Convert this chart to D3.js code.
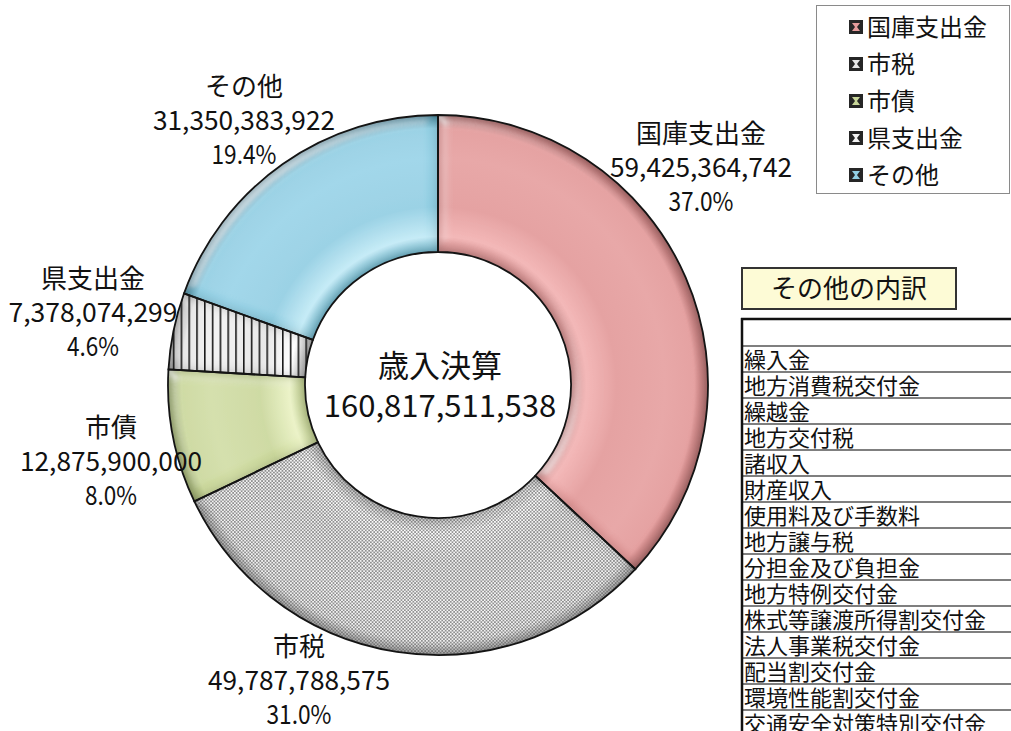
<!DOCTYPE html>
<html>
<head>
<meta charset="utf-8">
<script src="https://cdn.jsdelivr.net/npm/d3@7"></script>
<style>
body { margin: 0; background: #fff; }
text { font-family: "Noto Sans CJK JP", "Noto Sans", sans-serif; fill: #111; }
</style>
</head>
<body>
<svg id="chart" width="1011" height="731"></svg>
<script>
// 歳入決算の内訳
var categories = ["国庫支出金", "市税", "市債", "県支出金", "その他"];
var amounts = [59425364742, 49787788575, 12875900000, 7378074299, 31350383922];
var pctLabels = ["37.0%", "31.0%", "8.0%", "4.6%", "19.4%"];
var centerTitle = "歳入決算";
var otherTitle = "その他の内訳";
var otherItems = ["繰入金", "地方消費税交付金", "繰越金", "地方交付税", "諸収入", "財産収入",
	"使用料及び手数料", "地方譲与税", "分担金及び負担金", "地方特例交付金",
	"株式等譲渡所得割交付金", "法人事業税交付金", "配当割交付金", "環境性能割交付金",
	"交通安全対策特別交付金"];

// layout
var cx = 438, cy = 385, rOut = 270, rIn = 133;
var labelPos = [[701, 143], [299, 656], [111, 437], [93, 288], [244, 96]];
var colors = [
	["#c98888", "#f3b2b2", "#e39a9a", "#e6a0a0", "#a86a6a"],
	["#c8c8c8", "#ffffff", "#f0f0f0", "#f6f6f6", "#a8a8a8"],
	["#b4c287", "#eaf2c4", "#cbd89c", "#d2dea6", "#97a66c"],
	["#a8a8a8", "#ffffff", "#e6e6e6", "#f2f2f2", "#9a9a9a"],
	["#6fb0c4", "#c2eaf6", "#92cfe3", "#9ad4e8", "#4d8ea2"]
];
var patterns = [null, "dots", null, "stripes", null];

var svg = d3.select("#chart");
var defs = svg.append("defs");
var fmt = d3.format(",");

// gradients live in the translated group's coordinates (centre = 0,0)
colors.forEach(function(c, i) {
	var grad = defs.append("radialGradient")
		.attr("id", "g" + i)
		.attr("gradientUnits", "userSpaceOnUse")
		.attr("cx", 0).attr("cy", 0).attr("r", rOut);
	[[rIn / rOut, c[0]], [0.55, c[1]], [0.66, c[2]], [0.84, c[3]], [0.95, c[2]], [1, c[4]]].forEach(function(s) {
		grad.append("stop").attr("offset", s[0]).attr("stop-color", s[1]);
	});
});

var dots = defs.append("pattern").attr("id", "dots")
	.attr("patternUnits", "userSpaceOnUse").attr("width", 3.4).attr("height", 3.4);
dots.append("circle").attr("cx", 0.85).attr("cy", 0.85).attr("r", 0.85).attr("fill", "#555");
dots.append("circle").attr("cx", 2.55).attr("cy", 2.55).attr("r", 0.85).attr("fill", "#555");

var stripes = defs.append("pattern").attr("id", "stripes")
	.attr("patternUnits", "userSpaceOnUse").attr("width", 7.8).attr("height", 10);
stripes.append("rect").attr("x", 0).attr("y", 0).attr("width", 1.6).attr("height", 10).attr("fill", "#1a1a1a");

// pillow bevel: inner shadow + soft highlight
var bevel = defs.append("filter").attr("id", "bevel")
	.attr("x", "-5%").attr("y", "-5%").attr("width", "110%").attr("height", "110%");
bevel.append("feGaussianBlur").attr("in", "SourceAlpha").attr("stdDeviation", 6).attr("result", "blur");
bevel.append("feSpecularLighting").attr("in", "blur").attr("surfaceScale", 5)
	.attr("specularConstant", 0.45).attr("specularExponent", 20)
	.attr("lighting-color", "#ffffff").attr("result", "spec")
	.append("feDistantLight").attr("azimuth", 225).attr("elevation", 40);
bevel.append("feComposite").attr("in", "spec").attr("in2", "SourceAlpha")
	.attr("operator", "in").attr("result", "specOut");
bevel.append("feComponentTransfer").attr("in", "blur").attr("result", "inv")
	.append("feFuncA").attr("type", "table").attr("tableValues", "1 0");
bevel.append("feFlood").attr("flood-color", "#000").attr("flood-opacity", 0.45).attr("result", "flood");
bevel.append("feComposite").attr("in", "flood").attr("in2", "inv").attr("operator", "in").attr("result", "sh");
bevel.append("feComposite").attr("in", "sh").attr("in2", "SourceAlpha").attr("operator", "in").attr("result", "inner");
var merge = bevel.append("feMerge");
merge.append("feMergeNode").attr("in", "SourceGraphic");
merge.append("feMergeNode").attr("in", "inner");
merge.append("feMergeNode").attr("in", "specOut");

var pie = d3.pie().sort(null).value(function(d) { return d; });
var arc = d3.arc().innerRadius(rIn).outerRadius(rOut);
var arcs = pie(amounts);

var g = svg.append("g").attr("transform", "translate(" + cx + "," + cy + ")");

g.selectAll(".slice")
	.data(arcs)
	.enter().append("path")
	.attr("class", "slice")
	.attr("d", arc)
	.attr("fill", function(d, i) { return "url(#g" + i + ")"; })
	.attr("filter", "url(#bevel)");

g.selectAll(".pat")
	.data(arcs.filter(function(d, i) { return patterns[i]; }))
	.enter().append("path")
	.attr("class", "pat")
	.attr("d", arc)
	.attr("fill", function(d) { return "url(#" + patterns[d.index] + ")"; })
	.attr("opacity", function(d) { return patterns[d.index] == "dots" ? 0.85 : 1; });

g.selectAll(".edge")
	.data(arcs)
	.enter().append("path")
	.attr("class", "edge")
	.attr("d", arc)
	.attr("fill", "none")
	.attr("stroke", "#141414")
	.attr("stroke-width", 1.8);

// monospace-like half width figures
function numText(sel, str, fs) {
	sel.text(str)
		.attr("textLength", str.length * fs * 0.5)
		.attr("lengthAdjust", "spacingAndGlyphs");
}

var labels = svg.append("g").attr("class", "labels");
categories.forEach(function(name, i) {
	var p = labelPos[i];
	var lg = labels.append("g").attr("text-anchor", "middle").style("font-size", "26px");
	lg.append("text").attr("x", p[0]).attr("y", p[1]).text(name);
	numText(lg.append("text").attr("x", p[0]).attr("y", p[1] + 34), fmt(amounts[i]), 26);
	numText(lg.append("text").attr("x", p[0]).attr("y", p[1] + 68), pctLabels[i], 26);
});

var total = d3.sum(amounts);
var ct = svg.append("g").attr("text-anchor", "middle").style("font-size", "31px");
ct.append("text").attr("x", cx + 2).attr("y", 377).text(centerTitle);
numText(ct.append("text").attr("x", cx + 2).attr("y", 417), fmt(total), 31);

// legend
var legend = svg.append("g");
legend.append("rect")
	.attr("x", 816.5).attr("y", 5.5).attr("width", 193).attr("height", 188)
	.attr("fill", "#fff").attr("stroke", "#8a8a8a").attr("stroke-width", 1);
var swatchFill = ["#e69c9c", "#e8e8e8", "#c9d79a", "#f4f4f4", "#92cfe4"];
categories.forEach(function(name, i) {
	var y = 27 + i * 37;
	legend.append("rect").attr("x", 849).attr("y", y - 7).attr("width", 14).attr("height", 14)
		.attr("fill", "#262626");
	legend.append("path")
		.attr("d", "M" + 852 + "," + (y - 4) + "L" + 860 + "," + (y - 4) + "L" + 857 + "," + y +
			"L" + 860 + "," + (y + 4) + "L" + 852 + "," + (y + 4) + "L" + 855 + "," + y + "Z")
		.attr("fill", swatchFill[i]);
	legend.append("text").attr("x", 867).attr("y", y + 9).style("font-size", "24px").text(name);
});

// その他の内訳
svg.append("rect")
	.attr("x", 742).attr("y", 268).attr("width", 214).attr("height", 41)
	.attr("fill", "#fdfbd6").attr("stroke", "#333").attr("stroke-width", 2);
svg.append("text").attr("x", 849).attr("y", 298).attr("text-anchor", "middle")
	.style("font-size", "26px").text(otherTitle);

var table = svg.append("g");
var rowY = d3.scaleLinear().domain([0, 1]).range([346, 372]);
table.selectAll(".rowline")
	.data(otherItems)
	.enter().append("line")
	.attr("x1", 742).attr("x2", 1011)
	.attr("y1", function(d, i) { return rowY(i); })
	.attr("y2", function(d, i) { return rowY(i); })
	.attr("stroke", "#7f7f7f").attr("stroke-width", 2);
table.selectAll(".rowtext")
	.data(otherItems)
	.enter().append("text")
	.attr("x", 744)
	.attr("y", function(d, i) { return rowY(i + 1) - 4; })
	.style("font-size", "22px")
	.text(function(d) { return d; });
table.append("line").attr("x1", 741).attr("x2", 1011).attr("y1", 319).attr("y2", 319)
	.attr("stroke", "#111").attr("stroke-width", 2.5);
table.append("line").attr("x1", 742).attr("x2", 742).attr("y1", 318).attr("y2", 731)
	.attr("stroke", "#111").attr("stroke-width", 2.5);
</script>
</body>
</html>
